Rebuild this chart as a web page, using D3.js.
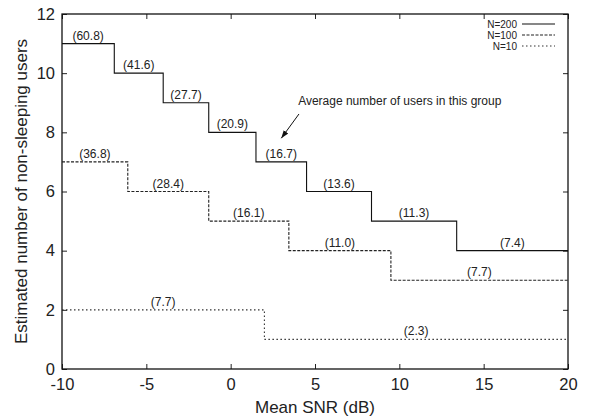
<!DOCTYPE html>
<html>
<head>
<meta charset="utf-8">
<script src="https://cdn.jsdelivr.net/npm/d3@7"></script>
<style>
  body { margin: 0; background: #fff; }
  text { font-family: "Liberation Sans", Arial, sans-serif; fill: #222; }
</style>
</head>
<body>
<div id="chart"></div>
<script>
// step edges (Mean SNR, dB), step levels and average users per group
const edges200 = [-10, -6.9, -4.0, -1.3, 1.5, 4.5, 8.35, 13.4, 20];
const levels200 = [11, 10, 9, 8, 7, 6, 5, 4];
const users200 = [60.8, 41.6, 27.7, 20.9, 16.7, 13.6, 11.3, 7.4];

const edges100 = [-10, -6.1, -1.3, 3.45, 9.5, 20];
const levels100 = [7, 6, 5, 4, 3];
const users100 = [36.8, 28.4, 16.1, 11.0, 7.7];

const edges10 = [-10, 2.0, 20];
const levels10 = [2, 1];
const users10 = [7.7, 2.3];

const xTicks = [-10, -5, 0, 5, 10, 15, 20];
const yTicks = [0, 2, 4, 6, 8, 10, 12];

const noteText = "Average number of users in this group";
const noteAt = [4.0, 8.92];
const arrowFrom = [4.05, 8.62];
const arrowTo = [3.0, 7.8];

const width = 593, height = 419;
const margin = { top: 14, right: 25, bottom: 50, left: 62 };

const svg = d3.select("#chart").append("svg")
    .attr("width", width)
    .attr("height", height);

const x = d3.scaleLinear().domain([-10, 20]).range([margin.left, width - margin.right]);
const y = d3.scaleLinear().domain([0, 12]).range([height - margin.bottom, margin.top]);

const series = [
    { name: "N=200", edges: edges200, levels: levels200, users: users200, dash: null, color: "#111" },
    { name: "N=100", edges: edges100, levels: levels100, users: users100, dash: "3,1.5", color: "#222" },
    { name: "N=10", edges: edges10, levels: levels10, users: users10, dash: "1.5,2.5", color: "#333" }
];

// axes with inward ticks on all sides (plain hyphen for negatives, like the original)
const tickLen = 5;
const plain = d => String(d);
svg.append("g")
    .attr("transform", `translate(0,${y(0)})`)
    .call(d3.axisBottom(x).tickValues(xTicks).tickFormat(plain).tickSizeInner(-tickLen).tickSizeOuter(0).tickPadding(9))
    .call(g => g.selectAll("text").style("font-size", "16.5px"));
svg.append("g")
    .attr("transform", `translate(0,${y(12)})`)
    .call(d3.axisTop(x).tickValues(xTicks).tickSizeInner(-tickLen).tickSizeOuter(0).tickFormat(""));
svg.append("g")
    .attr("transform", `translate(${x(-10)},0)`)
    .call(d3.axisLeft(y).tickValues(yTicks).tickFormat(plain).tickSizeInner(-tickLen).tickSizeOuter(0).tickPadding(7))
    .call(g => g.selectAll("text").style("font-size", "16.5px"));
svg.append("g")
    .attr("transform", `translate(${x(20)},0)`)
    .call(d3.axisRight(y).tickValues(yTicks).tickSizeInner(-tickLen).tickSizeOuter(0).tickFormat(""));

svg.selectAll(".domain").remove();
svg.selectAll(".tick line").attr("stroke", "#222");

svg.append("rect")
    .attr("x", x(-10))
    .attr("y", y(12))
    .attr("width", x(20) - x(-10))
    .attr("height", y(0) - y(12))
    .attr("fill", "none")
    .attr("stroke", "#111")
    .attr("stroke-width", 1.3);

// step lines
const line = d3.line().x(d => x(d[0])).y(d => y(d[1]));

function stepPoints(s) {
    const pts = [];
    s.levels.forEach((v, i) => {
        pts.push([s.edges[i], v]);
        pts.push([s.edges[i + 1], v]);
    });
    return pts;
}

series.forEach(s => {
    svg.append("path")
        .attr("d", line(stepPoints(s)))
        .attr("fill", "none")
        .attr("stroke", s.color)
        .attr("stroke-width", 1.1)
        .attr("stroke-dasharray", s.dash);

    svg.selectAll(null)
        .data(s.levels)
        .enter()
        .append("text")
        .attr("x", (d, i) => x((s.edges[i] + s.edges[i + 1]) / 2))
        .attr("y", d => y(d) - 4)
        .attr("text-anchor", "middle")
        .style("font-size", "12px")
        .text((d, i) => "(" + s.users[i].toFixed(1) + ")");
});

// annotation
svg.append("defs").append("marker")
    .attr("id", "arrow")
    .attr("viewBox", "0 0 10 10")
    .attr("refX", 10)
    .attr("refY", 5)
    .attr("markerWidth", 8)
    .attr("markerHeight", 8)
    .attr("markerUnits", "userSpaceOnUse")
    .attr("orient", "auto")
    .append("path")
    .attr("d", "M0,1.5 L10,5 L0,8.5 Z")
    .attr("fill", "#111");

svg.append("line")
    .attr("x1", x(arrowFrom[0]))
    .attr("y1", y(arrowFrom[1]))
    .attr("x2", x(arrowTo[0]))
    .attr("y2", y(arrowTo[1]))
    .attr("stroke", "#111")
    .attr("stroke-width", 1)
    .attr("marker-end", "url(#arrow)");

svg.append("text")
    .attr("x", x(noteAt[0]))
    .attr("y", y(noteAt[1]))
    .style("font-size", "12px")
    .text(noteText);

// legend
const legendRow = 11;
const legend = svg.append("g").attr("transform", `translate(${x(20) - 51},${y(12) + 10})`);
series.forEach((s, i) => {
    const row = legend.append("g").attr("transform", `translate(0,${i * legendRow})`);
    row.append("text")
        .attr("x", 0)
        .attr("y", 3.6)
        .attr("text-anchor", "end")
        .style("font-size", "10px")
        .text(s.name);
    row.append("line")
        .attr("x1", 5)
        .attr("x2", 38)
        .attr("y1", 0)
        .attr("y2", 0)
        .attr("stroke", s.color)
        .attr("stroke-width", 1.1)
        .attr("stroke-dasharray", s.dash);
});

// axis titles
svg.append("text")
    .attr("x", (x(-10) + x(20)) / 2)
    .attr("y", 413)
    .attr("text-anchor", "middle")
    .style("font-size", "17px")
    .text("Mean SNR (dB)");

svg.append("text")
    .attr("transform", `translate(27,${(y(0) + y(12)) / 2}) rotate(-90)`)
    .attr("text-anchor", "middle")
    .style("font-size", "17px")
    .text("Estimated number of non-sleeping users");
</script>
</body>
</html>
